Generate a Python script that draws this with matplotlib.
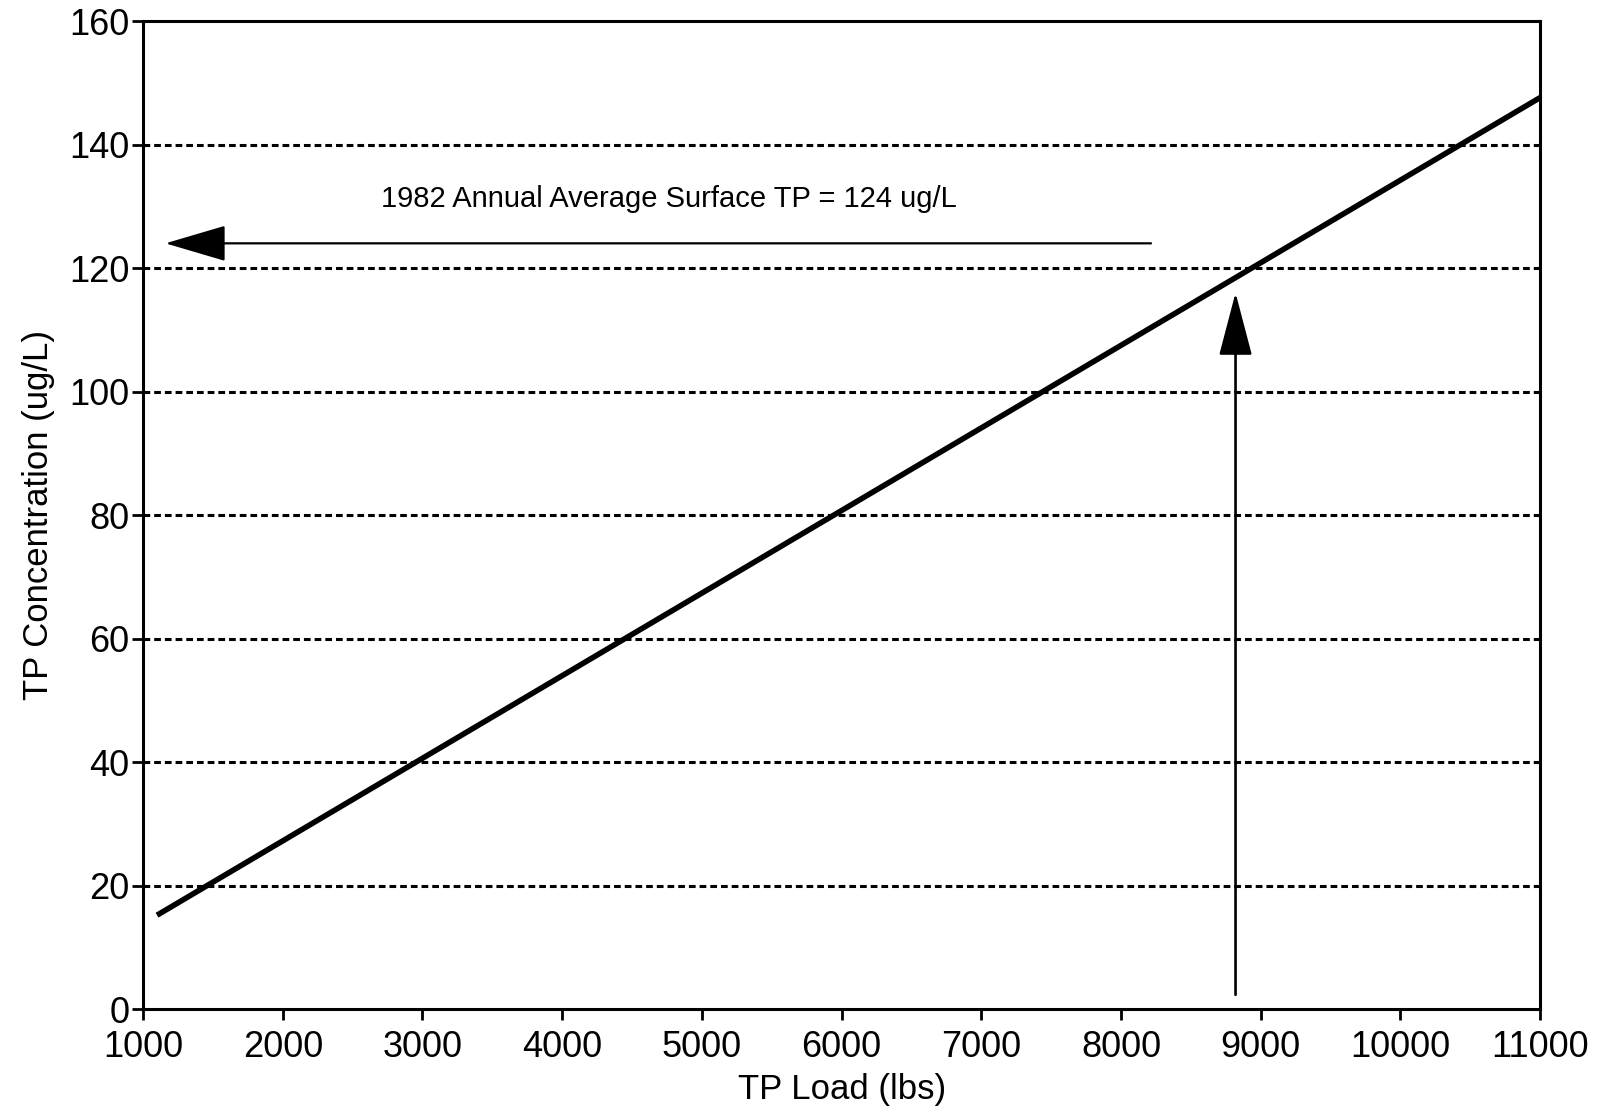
import matplotlib
matplotlib.use("Agg")
import matplotlib.pyplot as plt
from matplotlib import font_manager

# Data: modelled in-lake TP concentration versus annual TP load
load_lbs = [1100, 11000]
tp_conc = [15.2, 147.6]

x_ticks = [1000, 2000, 3000, 4000, 5000, 6000, 7000, 8000, 9000, 10000, 11000]
y_ticks = [0, 20, 40, 60, 80, 100, 120, 140, 160]
grid_levels = [20, 40, 60, 80, 100, 120, 140]

observed_tp = 124          # 1982 annual average surface TP (ug/L)
observed_arrow_x = [8215, 1160]
implied_load = 8820
implied_arrow_y = [2.3, 116.0]
note_text = "1982 Annual Average Surface TP = 124 ug/L"
note_pos = (2700, 131.2)

available = {f.name for f in font_manager.fontManager.ttflist}
family = "Liberation Sans Narrow" if "Liberation Sans Narrow" in available else "Liberation Sans"
plt.rcParams["font.family"] = [family, "DejaVu Sans"]

fig = plt.figure(figsize=(16.13, 11.13), dpi=100)
ax = fig.add_axes([0.0887, 0.0934, 0.8661, 0.8877])

ax.set_xlim(1000, 11000)
ax.set_ylim(0, 160)

for lvl in grid_levels:
    ax.axhline(lvl, color="black", lw=2.2, dashes=(2.2, 1.3), zorder=1)

ax.plot(load_lbs, tp_conc, color="black", lw=4.0, solid_capstyle="butt", zorder=3)

# Horizontal arrow pointing to the concentration axis
ax.annotate("", xy=(observed_arrow_x[1], observed_tp), xytext=(observed_arrow_x[0], observed_tp),
            arrowprops=dict(arrowstyle="-|>,head_length=3.9,head_width=1.15", mutation_scale=10,
                            color="black", lw=1.6, shrinkA=0, shrinkB=0), zorder=4)
# Vertical arrow rising from the load axis to the line
ax.annotate("", xy=(implied_load, implied_arrow_y[1]), xytext=(implied_load, implied_arrow_y[0]),
            arrowprops=dict(arrowstyle="-|>,head_length=4.0,head_width=1.05", mutation_scale=10,
                            color="black", lw=1.9, shrinkA=0, shrinkB=0), zorder=4)

ax.text(note_pos[0], note_pos[1], note_text, fontsize=21, ha="left", va="center")

ax.set_xticks(x_ticks)
ax.set_xticklabels([str(v) for v in x_ticks])
ax.set_yticks(y_ticks)
ax.set_yticklabels([str(v) for v in y_ticks])
ax.tick_params(axis="both", direction="out", length=8, width=2.0, labelsize=26, color="black")
ax.tick_params(axis="x", pad=7)
ax.tick_params(axis="y", pad=2)

for sp in ax.spines.values():
    sp.set_linewidth(2.2)
    sp.set_color("black")

ax.set_xlabel("TP Load (lbs)", fontsize=25, labelpad=6)
ax.set_ylabel("TP Concentration (ug/L)", fontsize=25, labelpad=10)

fig.savefig("out.png", dpi=100, facecolor="white")
